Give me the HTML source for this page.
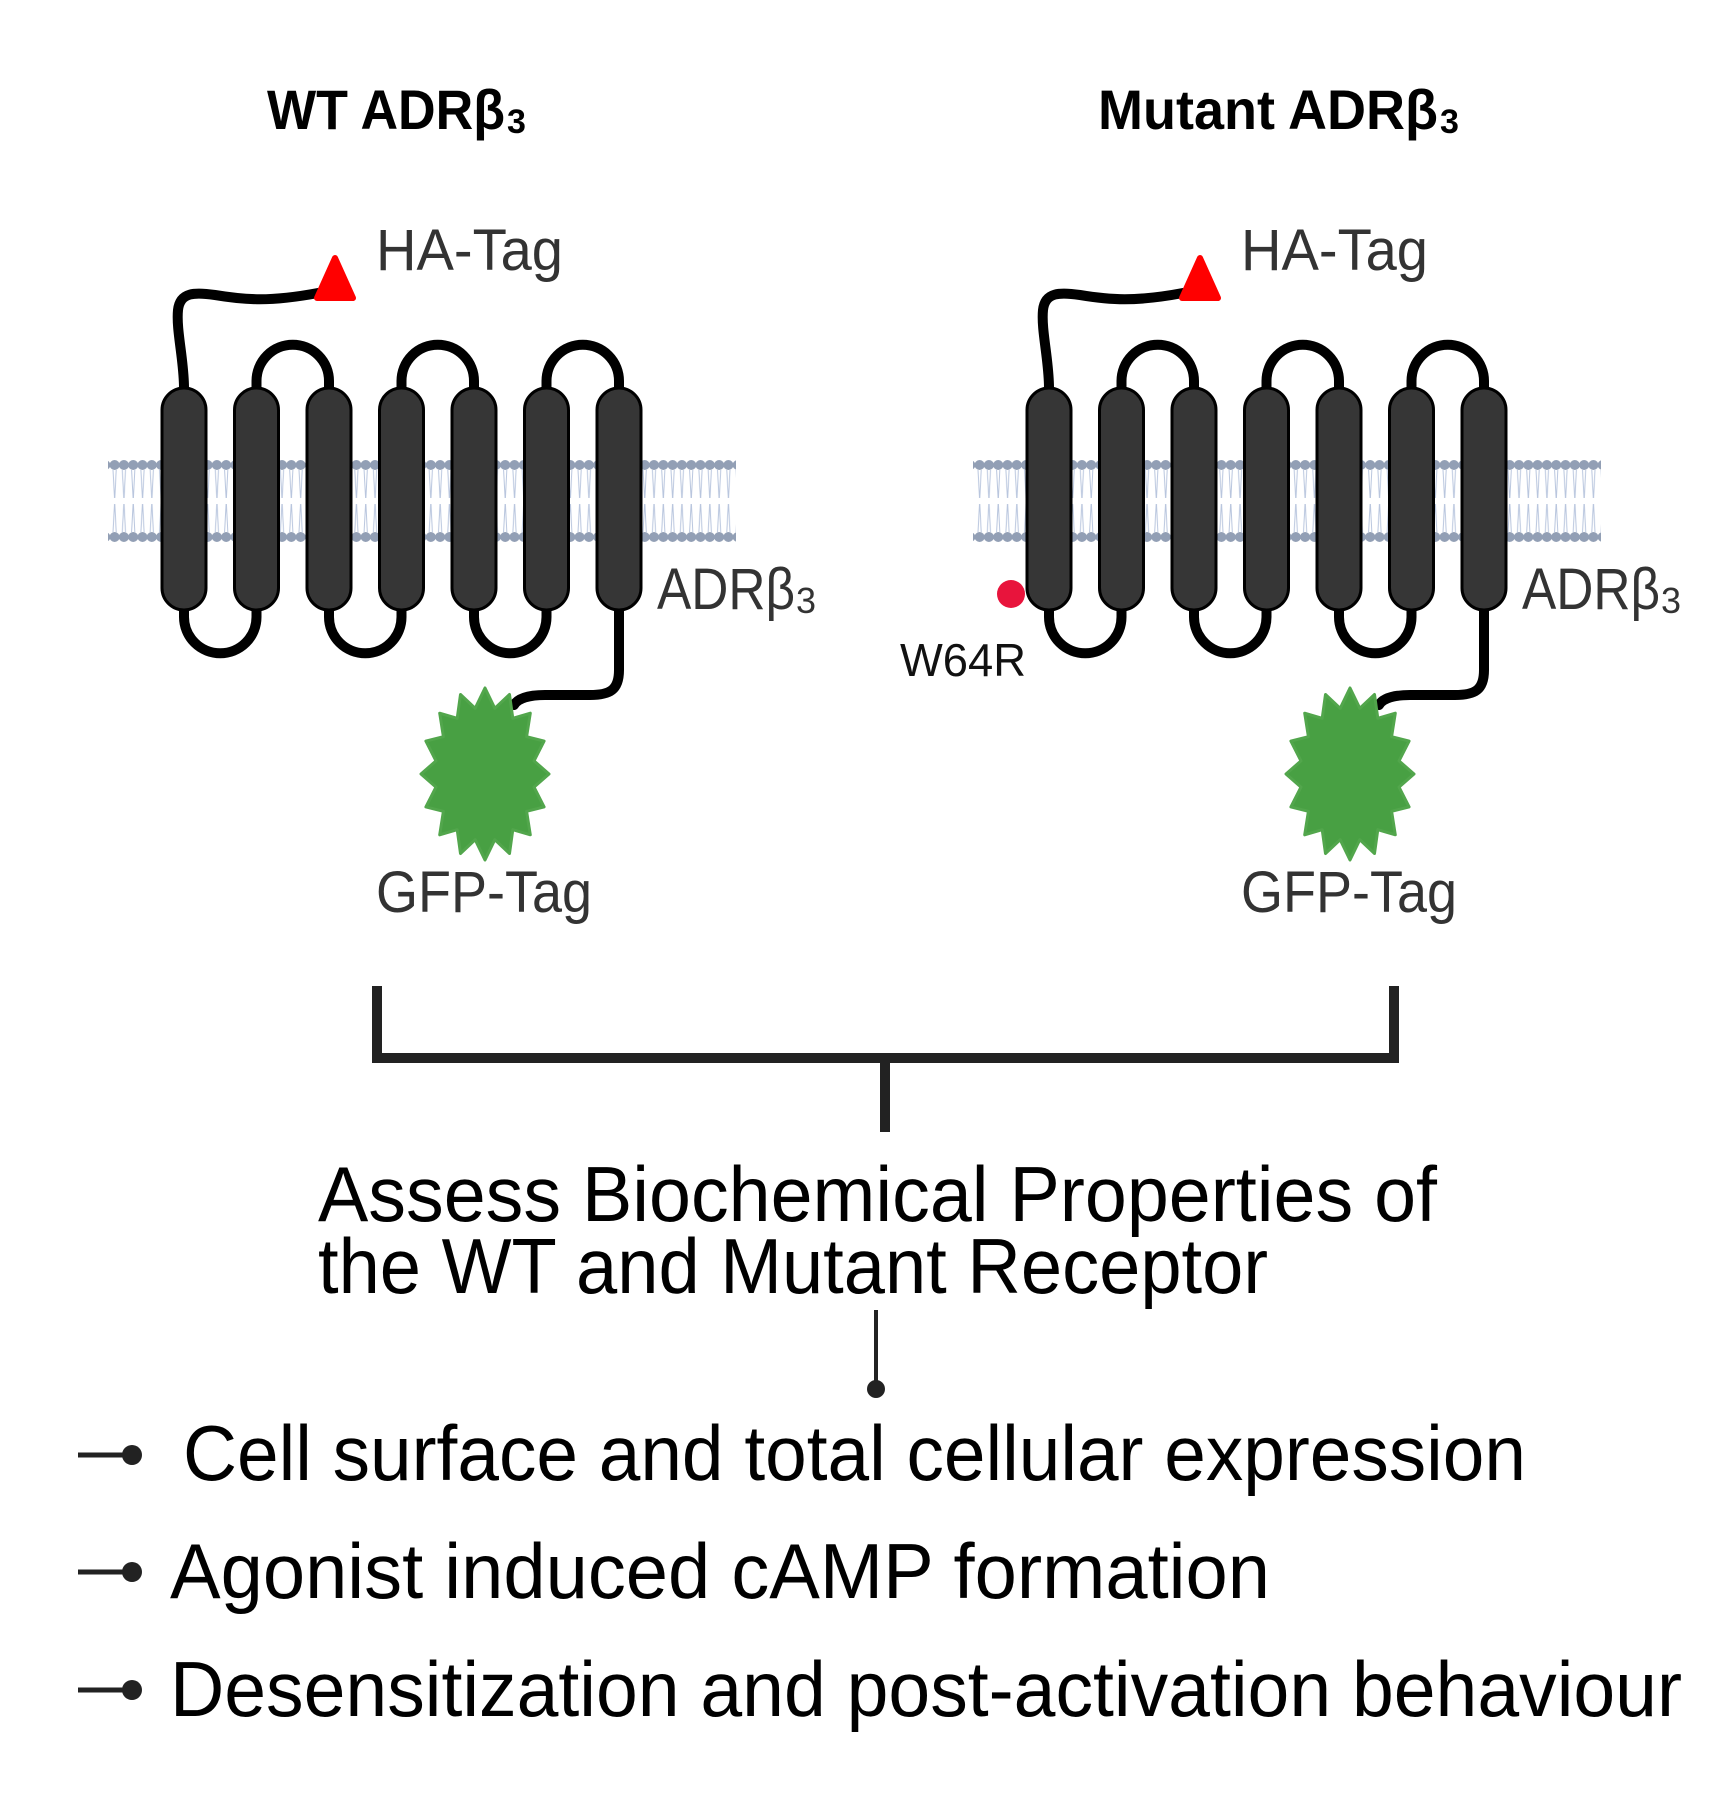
<!DOCTYPE html>
<html><head><meta charset="utf-8"><style>html,body{margin:0;padding:0;background:#fff}svg{display:block}</style></head>
<body>
<svg width="1721" height="1803" viewBox="0 0 1721 1803" xmlns="http://www.w3.org/2000/svg" font-family="Liberation Sans, sans-serif">
<defs>
<pattern id="heads" x="110" y="459" width="9.3" height="84" patternUnits="userSpaceOnUse">
<circle cx="4.6" cy="6" r="5" fill="#929fb5"/>
<circle cx="4.6" cy="78" r="5" fill="#929fb5"/>
<path d="M3 11 L4.5 39 M6.2 11 L4.8 39 M3 73 L4.5 45 M6.2 73 L4.8 45" stroke="#b9c6de" stroke-width="1" fill="none"/>
</pattern>
<g id="rec">
<rect x="108" y="459" width="628" height="84" fill="url(#heads)"/>
<g fill="none" stroke="#000" stroke-width="10" stroke-linecap="round">
<path d="M184 388 C184 360 176 330 178 310 C180 292 195 292 215 295 C245 300 270 302 318 293"/>
<path d="M256.5 388 V381 A36 36 0 0 1 329 381 V388"/>
<path d="M401.5 388 V381 A36 36 0 0 1 474 381 V388"/>
<path d="M546.5 388 V381 A36 36 0 0 1 619 381 V388"/>
<path d="M184 610 V617 A36 36 0 0 0 256.5 617 V610"/>
<path d="M329 610 V617 A36 36 0 0 0 401.5 617 V610"/>
<path d="M474 610 V617 A36 36 0 0 0 546.5 617 V610"/>
<path d="M619 610 V670 C619 690 610 695 590 695 H545 C530 695 518 698 514 705"/>
</g>
<g fill="#363636" stroke="#000" stroke-width="3">
<rect x="162" y="388" width="44" height="222" rx="22"/>
<rect x="234.5" y="388" width="44" height="222" rx="22"/>
<rect x="307" y="388" width="44" height="222" rx="22"/>
<rect x="379.5" y="388" width="44" height="222" rx="22"/>
<rect x="452" y="388" width="44" height="222" rx="22"/>
<rect x="524.5" y="388" width="44" height="222" rx="22"/>
<rect x="597" y="388" width="44" height="222" rx="22"/>
</g>
<path d="M335 258 L353 298 L317 298 Z" fill="#f00" stroke="#f00" stroke-width="6" stroke-linejoin="round"/>
<polygon fill="#48a043" stroke="#52a64c" stroke-width="3" stroke-linejoin="round" points="549,774 534.0,787.1 544.1,806.9 526.6,811.3 530.3,834.8 512.8,829.7 509.5,853.5 494.8,839.7 485,860 475.2,839.7 460.5,853.5 457.2,829.7 439.7,834.8 443.4,811.3 425.9,806.9 436.0,787.1 421,774 436.0,760.9 425.9,741.1 443.4,736.7 439.7,713.2 457.2,718.3 460.5,694.5 475.2,708.3 485,688 494.8,708.3 509.5,694.5 512.8,718.3 530.3,713.2 526.6,736.7 544.1,741.1 534.0,760.9"/>
<g fill="#333" font-size="58">
<text x="376" y="270" textLength="187" lengthAdjust="spacingAndGlyphs">HA-Tag</text>
<text x="376" y="912" textLength="216" lengthAdjust="spacingAndGlyphs">GFP-Tag</text>
<text x="657" y="609" textLength="138" lengthAdjust="spacingAndGlyphs">ADRβ</text>
<text x="796" y="613" font-size="36">3</text>
</g>
</g>
</defs>
<use href="#rec"/>
<use href="#rec" transform="translate(865,0)"/>
<g font-weight="bold" fill="#000" font-size="56">
<text x="267" y="129" textLength="238" lengthAdjust="spacingAndGlyphs">WT ADRβ</text>
<text x="507" y="133" font-size="34">3</text>
<text x="1098" y="129" textLength="340" lengthAdjust="spacingAndGlyphs">Mutant ADRβ</text>
<text x="1440" y="133" font-size="34">3</text>
</g>
<circle cx="1011" cy="594" r="14" fill="#e8143c"/>
<text x="900" y="676" font-size="46" fill="#111" textLength="126" lengthAdjust="spacingAndGlyphs">W64R</text>
<g fill="none" stroke="#222" stroke-width="10">
<path d="M377 986 V1058 H1394 V986"/>
<path d="M885 1058 V1132"/>
<path d="M876 1310 V1385" stroke-width="4"/>
<path d="M78 1455 H130 M78 1572 H130 M78 1690 H130" stroke-width="5"/>
</g>
<g fill="#222"><circle cx="876" cy="1389" r="9"/><circle cx="132" cy="1455" r="10"/><circle cx="132" cy="1572" r="10"/><circle cx="132" cy="1690" r="10"/></g>
<g fill="#000" font-size="78">
<text x="318" y="1221" textLength="1119" lengthAdjust="spacingAndGlyphs">Assess Biochemical Properties of</text>
<text x="318" y="1293" textLength="950" lengthAdjust="spacingAndGlyphs">the WT and Mutant Receptor</text>
<text x="183" y="1480" textLength="1343" lengthAdjust="spacingAndGlyphs">Cell surface and total cellular expression</text>
<text x="170" y="1598" textLength="1100" lengthAdjust="spacingAndGlyphs">Agonist induced cAMP formation</text>
<text x="170" y="1716" textLength="1512" lengthAdjust="spacingAndGlyphs">Desensitization and post-activation behaviour</text>
</g>
</svg>
</body></html>
